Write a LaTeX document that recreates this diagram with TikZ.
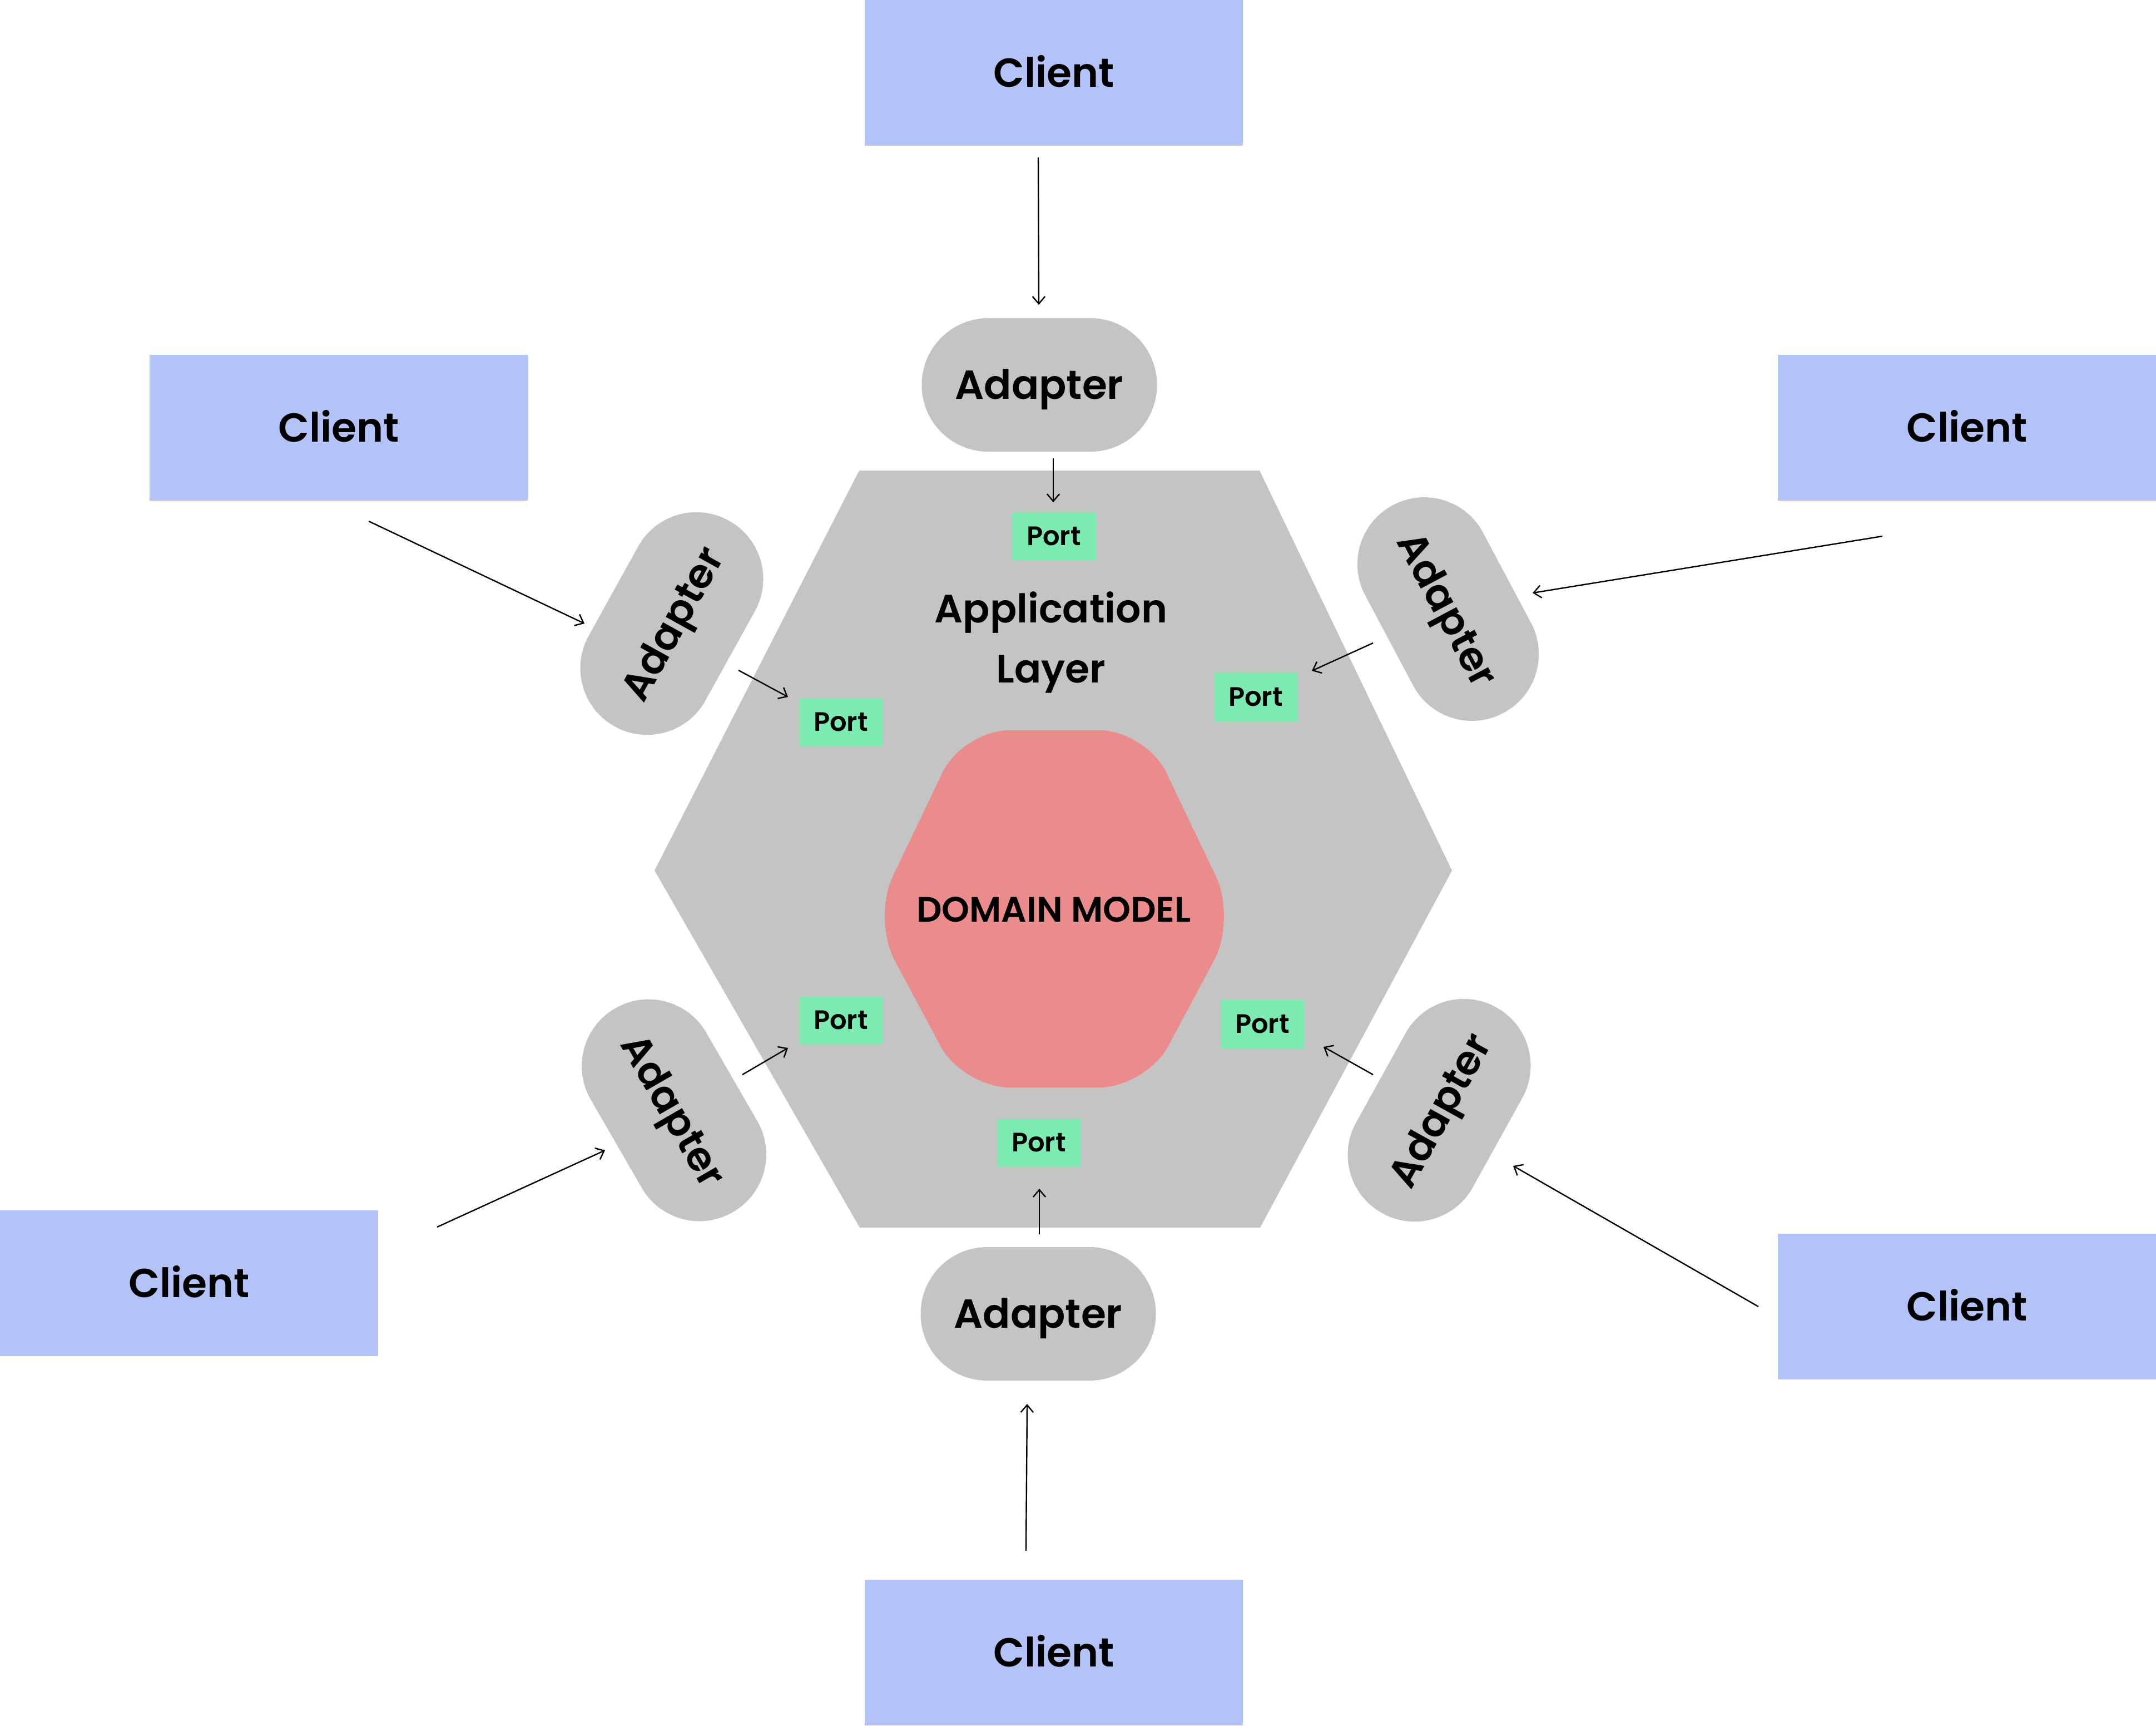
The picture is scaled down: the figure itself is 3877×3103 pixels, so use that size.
\documentclass[tikz,border=0pt]{standalone}
\usepackage{fontspec}
\setmainfont{Poppins}
\newfontfamily\psemi{Poppins SemiBold}
\newfontfamily\pmed{Poppins Medium}
\usetikzlibrary{arrows.meta}
\definecolor{clientblue}{RGB}{179,195,247}
\definecolor{hexgrey}{RGB}{196,196,196}
\definecolor{portgreen}{RGB}{123,235,177}
\definecolor{domainpink}{RGB}{234,140,140}
\begin{document}
\begin{tikzpicture}[x=0.25pt,y=-0.25pt,
  client/.style={fill=clientblue, minimum width=170pt, minimum height=65.5pt, inner sep=0pt,
    text height=12.8pt, text depth=0pt, font=\psemi\fontsize{18.2}{22}\selectfont},
  adapter/.style={fill=hexgrey, rounded corners=29.9pt, minimum width=105.75pt, minimum height=60pt,
    inner sep=0pt, text height=12.8pt, text depth=0pt, font=\psemi\fontsize{18.2}{22}\selectfont},
  port/.style={fill=portgreen, minimum width=37.75pt, minimum height=21.75pt, inner sep=0pt,
    text height=8.4pt, text depth=0pt, font=\psemi\fontsize{12}{14}\selectfont},
  arr/.style={-{Straight Barb[length=3.3pt,width=5.6pt]}, line width=0.6pt},
]
\useasboundingbox (0,0) rectangle (3877,3103);

% clients
\node[client] (cT)  at (1895,131)  {Client};
\node[client] (cUL) at (609,769)   {Client};
\node[client] (cUR) at (3537,769)  {Client};
\node[client] (cLL) at (340,2307)  {Client};
\node[client] (cLR) at (3537,2349) {Client};
\node[client] (cB)  at (1895,2971) {Client};

% application layer hexagon
\fill[hexgrey] (1545,846) -- (2265,846) -- (2611,1565) -- (2266,2207) -- (1546,2207) -- (1177,1565) -- cycle;
\node[align=center, font=\psemi\fontsize{17.8}{27}\selectfont] (app) at (1890,1155) {Application\\Layer};

% domain model
\fill[domainpink, rounded corners=21pt] (1896,1313) -- (2061,1313) -- (2223,1652) -- (2061,1955)
  -- (1731,1955) -- (1569,1652) -- (1731,1313) -- cycle;
\node[font=\psemi\fontsize{15.9}{18}\selectfont, text height=11.1pt, text depth=0pt] (dm) at (1895,1635) {DOMAIN MODEL};

% adapters
\node[adapter] (aT) at (1869,692) {Adapter};
\node[adapter, rotate=61] (aUL) at (1208,1121) {Adapter};
\node[adapter, rotate=-62] (aUR) at (2604,1095) {Adapter};
\node[adapter, rotate=-60] (aLL) at (1212,1996) {Adapter};
\node[adapter, rotate=61] (aLR) at (2588,1996) {Adapter};
\node[adapter] (aB) at (1867,2362) {Adapter};

% ports
\node[port] (pT)  at (1895,964)  {Port};
\node[port] (pUL) at (1512,1298) {Port};
\node[port] (pUR) at (2258,1253) {Port};
\node[port] (pLL) at (1512,1834) {Port};
\node[port] (pLR) at (2270,1841) {Port};
\node[port] (pB)  at (1868,2054) {Port};

% connector end points
\coordinate (tcs) at (1867,283);  \coordinate (tce) at (1868,548);
\coordinate (tas) at (1894,824);  \coordinate (tae) at (1894,903);
\coordinate (ulcs) at (663,937);  \coordinate (ulce) at (1051,1121);
\coordinate (ulas) at (1328,1205); \coordinate (ulae) at (1417,1253);
\coordinate (urcs) at (3385,964); \coordinate (urce) at (2756,1066);
\coordinate (uras) at (2469,1156); \coordinate (urae) at (2359,1206);
\coordinate (llcs) at (786,2206); \coordinate (llce) at (1088,2068);
\coordinate (llas) at (1335,1932); \coordinate (llae) at (1417,1884);
\coordinate (lrcs) at (3162,2349); \coordinate (lrce) at (2721,2096);
\coordinate (lras) at (2469,1932); \coordinate (lrae) at (2380,1882);
\coordinate (bcs) at (1845,2788); \coordinate (bce) at (1847,2524);
\coordinate (bas) at (1869,2219); \coordinate (bae) at (1869,2137);

% connectors
\draw[arr] (tcs) -- (tce);
\draw[arr] (tas) -- (tae);
\draw[arr] (ulcs) -- (ulce);
\draw[arr] (ulas) -- (ulae);
\draw[arr] (urcs) -- (urce);
\draw[arr] (uras) -- (urae);
\draw[arr] (llcs) -- (llce);
\draw[arr] (llas) -- (llae);
\draw[arr] (lrcs) -- (lrce);
\draw[arr] (lras) -- (lrae);
\draw[arr] (bcs) -- (bce);
\draw[arr] (bas) -- (bae);
\end{tikzpicture}
\end{document}
